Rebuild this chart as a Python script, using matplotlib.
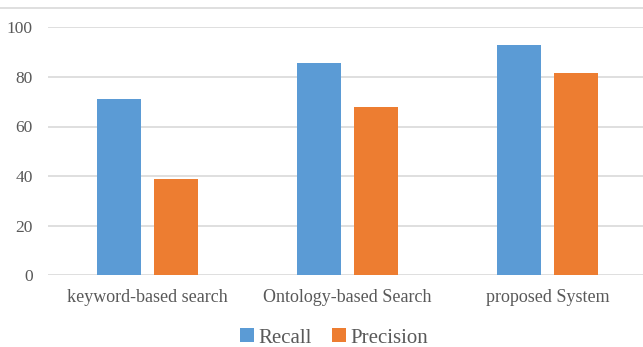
import matplotlib
matplotlib.use("Agg")
import matplotlib.pyplot as plt
import numpy as np
from matplotlib.lines import Line2D

# data
categories = ["keyword-based search", "Ontology-based Search", "proposed System"]
recall = [71.0, 85.5, 92.9]
precision = [38.7, 67.7, 81.5]
yticks = [0, 20, 40, 60, 80, 100]

blue = "#5B9BD5"
orange = "#ED7D31"
grid_col = "#D9D9D9"
text_col = "#595959"

plt.rcParams["font.family"] = ["Liberation Serif", "DejaVu Serif"]

fig = plt.figure(figsize=(6.43, 3.47), dpi=100)
ax = fig.add_axes([47.5 / 643, 71.7 / 347, 600 / 643, 248 / 347])

x = np.arange(len(categories))
w = 0.22
off = 0.1425
ax.bar(x - off, recall, w, color=blue, label="Recall", zorder=3)
ax.bar(x + off, precision, w, color=orange, label="Precision", zorder=3)

ax.set_xlim(-0.5, 2.5)
ax.set_ylim(0, 100)
ax.set_yticks(yticks)
ax.set_xticks(x)
ax.set_xticklabels(categories, fontsize=13, color=text_col)
ax.tick_params(axis="y", length=0, pad=10.5, labelsize=12.5, labelcolor=text_col)
ax.tick_params(axis="x", length=0, pad=10)
ax.yaxis.grid(True, color=grid_col, linewidth=1.2, zorder=0)
for s in ax.spines.values():
    s.set_visible(False)

# top border line of the chart area
fig.add_artist(Line2D([0, 1], [1 - 7.5 / 347, 1 - 7.5 / 347], color=grid_col, linewidth=1.2))

handles, labels = ax.get_legend_handles_labels()
fig.legend(handles, labels, loc="center", bbox_to_anchor=(334 / 643, 1 - 338 / 347),
           ncol=2, frameon=False, fontsize=15, labelcolor=text_col,
           handlelength=0.65, handleheight=0.65, handletextpad=0.2, columnspacing=1.0)

fig.savefig("out.png", dpi=100)
